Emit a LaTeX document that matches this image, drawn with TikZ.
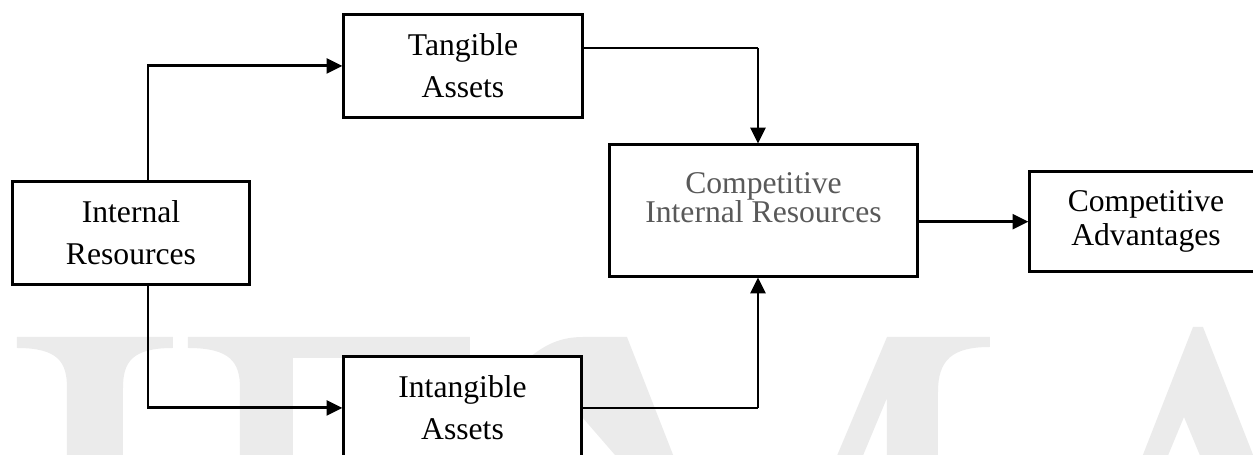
\documentclass[tikz,border=0pt]{standalone}
\usepackage{fontspec}
\setmainfont{Liberation Serif}
\usepackage{xcolor}
\definecolor{markgray}{RGB}{235,235,235}
\definecolor{dimgray}{RGB}{89,89,89}
\usetikzlibrary{arrows.meta}

\begin{document}
\begin{tikzpicture}[x=0.01cm, y=-0.01cm,
  box/.style={draw, line width=0.85pt, fill=white, align=center, inner sep=0pt,
    font=\fontsize{9pt}{12pt}\selectfont},
  link/.style={line width=0.85pt, -{Triangle[length=4.5pt, width=4.2pt]}},
  feed/.style={line width=0.35pt}]
  \useasboundingbox (0,0) rectangle (1253,455);
  \clip (0,0) rectangle (1253,455);
  % Watermark letters
  \fill[markgray] (17,337) -- (173,337) -- (173,348) .. controls (132,348) and (123,362) .. (123,388)
    -- (123,470) -- (67,470) -- (67,388) .. controls (67,362) and (58,348) .. (17,348) -- cycle;
  \fill[markgray] (188,337) -- (470,337) -- (470,358) -- (293,358) -- (293,470) -- (240,470)
    -- (240,388) .. controls (240,362) and (230,348) .. (188,348) -- cycle;
  \fill[markgray] (530,357) .. controls (545,345) and (560,337) .. (583,337) -- (627,337)
    -- (679,470) -- (628,470) -- cycle;
  \fill[markgray] (831,470) -- (887,337) -- (990,337) -- (990,347) .. controls (952,347) and (938,360) .. (938,392)
    -- (938,470) -- (887,470) -- (887,398) -- (857,470) -- cycle;
  \fill[markgray] (1137,470) -- (1193,327) -- (1203,327) -- (1259,470) -- (1206,470) -- (1184,417)
    -- (1162,470) -- cycle;
  % Boxes
  \node[box, minimum width=2.37cm, minimum height=1.02cm] (res) at (131,233) {Internal\\Resources};
  \node[box, minimum width=2.38cm, minimum height=1.02cm] (tang) at (463,66) {Tangible\\Assets};
  \node[box, minimum width=2.37cm, minimum height=1.02cm] (intang) at (462.5,408) {Intangible\\Assets};
  \node[box, minimum width=3.07cm, minimum height=1.31cm] (cir) at (763.5,210.5) {};
  \node[align=center, inner sep=0pt, text=dimgray,
    font=\fontsize{9pt}{8.2pt}\selectfont\setlength{\lineskiplimit}{-10pt}] (cirlabel)
    at ([yshift=0.13cm]cir.center) {Competitive\\Internal Resources};
  \node[box, minimum width=2.32cm, minimum height=1.0cm,
    font=\fontsize{9pt}{9.8pt}\selectfont] (adv) at (1146,221.7) {Competitive\\Advantages};
  % Arrows
  \coordinate (split) at (148,0);
  \coordinate (join) at (758,0);
  \draw[link] (res.north -| split) |- (tang.west);
  \draw[link] (res.south -| split) |- (intang.west);
  \draw[feed] ([yshift=0.18cm]tang.east) -- ([yshift=0.18cm]tang.east -| join);
  \draw[link] ([yshift=0.18cm]tang.east -| join) -- (cir.north -| join);
  \draw[feed] (intang.east) -- (intang.east -| join);
  \draw[link] (intang.east -| join) -- (cir.south -| join);
  \draw[link] (cir.east |- adv.west) -- (adv.west);
\end{tikzpicture}
\end{document}
